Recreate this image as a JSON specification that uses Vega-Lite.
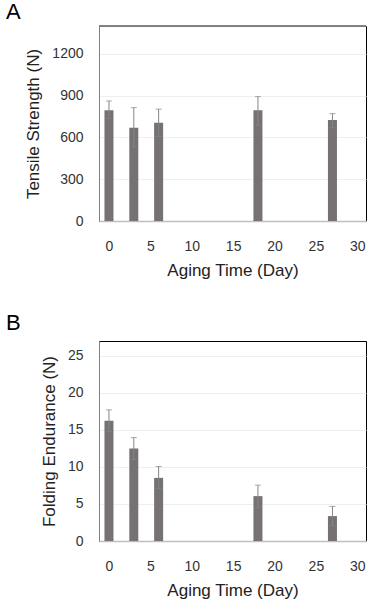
{
  "$schema": "https://vega.github.io/schema/vega-lite/v6.json",
  "padding": {"left": 5, "top": 0, "right": 2, "bottom": 0},
  "spacing": 32,
  "background": "white",
  "config": {
    "font": "Liberation Sans",
    "view": {"stroke": "#000000", "strokeWidth": 1},
    "axisX": {
      "values": [0, 5, 10, 15, 20, 25, 30],
      "ticks": false,
      "tickSize": 0,
      "grid": false,
      "labelPadding": 18,
      "labelFontSize": 14,
      "labelColor": "#333333",
      "titleFontSize": 17,
      "titleFontWeight": "normal",
      "titleColor": "#222222",
      "titlePadding": 9,
      "domainColor": "#bfbfbf",
      "domainWidth": 1.5
    },
    "axisY": {
      "ticks": false,
      "tickSize": 0,
      "grid": true,
      "gridColor": "#efefef",
      "labelPadding": 16,
      "labelFontSize": 14,
      "labelColor": "#333333",
      "titleFontSize": 17,
      "titleFontWeight": "normal",
      "titleColor": "#222222",
      "titlePadding": 9,
      "domainColor": "#808080",
      "format": "d"
    },
    "title": {"fontSize": 22, "fontWeight": "normal", "anchor": "start", "frame": "group", "color": "#000000"}
  },
  "datasets": {
    "a": [
      {"day": 0, "value": 795, "lo": 735, "hi": 862},
      {"day": 3, "value": 670, "lo": 532, "hi": 814},
      {"day": 6, "value": 706, "lo": 604, "hi": 803},
      {"day": 18, "value": 795, "lo": 688, "hi": 893},
      {"day": 27, "value": 726, "lo": 670, "hi": 771}
    ],
    "b": [
      {"day": 0, "value": 16.25, "lo": 14.8, "hi": 17.7},
      {"day": 3, "value": 12.5, "lo": 11.0, "hi": 13.96},
      {"day": 6, "value": 8.52, "lo": 7.09, "hi": 10.05},
      {"day": 18, "value": 6.06, "lo": 4.48, "hi": 7.54},
      {"day": 27, "value": 3.36, "lo": 2.11, "hi": 4.67}
    ]
  },
  "vconcat": [
    {
      "width": 267,
      "height": 195,
      "title": {"text": "A", "dx": -93, "offset": 2},
      "data": {"name": "a"},
      "encoding": {
        "x": {"field": "day", "type": "quantitative", "scale": {"domain": [-0.6, 30.45], "nice": false, "zero": false}, "title": "Aging Time (Day)"}
      },
      "layer": [
        {
          "mark": {"type": "bar", "width": 9, "color": "#777272"},
          "encoding": {
            "y": {"field": "value", "type": "quantitative", "scale": {"domain": [0, 1400], "nice": false}, "axis": {"values": [0, 300, 600, 900, 1200]}, "title": "Tensile Strength (N)"}
          }
        },
        {
          "mark": {"type": "rule", "color": "#858585", "strokeWidth": 1},
          "encoding": {
            "y": {"field": "lo", "type": "quantitative", "axis": {"values": [0, 300, 600, 900, 1200]}, "title": "Tensile Strength (N)"},
            "y2": {"field": "hi"}
          }
        },
        {
          "mark": {"type": "tick", "orient": "horizontal", "size": 6, "thickness": 1, "color": "#858585"},
          "encoding": {
            "y": {"field": "hi", "type": "quantitative", "axis": {"values": [0, 300, 600, 900, 1200]}, "title": "Tensile Strength (N)"}
          }
        },
        {
          "mark": {"type": "tick", "orient": "horizontal", "size": 6, "thickness": 1, "color": "#858585"},
          "encoding": {
            "y": {"field": "lo", "type": "quantitative", "axis": {"values": [0, 300, 600, 900, 1200]}, "title": "Tensile Strength (N)"}
          }
        },
        {
          "mark": {"type": "rule", "color": "#808080", "strokeWidth": 1},
          "encoding": {"x": {"value": 0}, "x2": {"value": 267}, "y": {"datum": 1400, "type": "quantitative", "axis": {"values": [0, 300, 600, 900, 1200]}, "title": "Tensile Strength (N)"}}
        }
      ]
    },
    {
      "width": 267,
      "height": 200,
      "title": {"text": "B", "dx": -93, "offset": 6},
      "data": {"name": "b"},
      "encoding": {
        "x": {"field": "day", "type": "quantitative", "scale": {"domain": [-0.6, 30.45], "nice": false, "zero": false}, "title": "Aging Time (Day)"}
      },
      "layer": [
        {
          "mark": {"type": "bar", "width": 9, "color": "#777272"},
          "encoding": {
            "y": {"field": "value", "type": "quantitative", "scale": {"domain": [0, 27], "nice": false}, "axis": {"values": [0, 5, 10, 15, 20, 25]}, "title": "Folding Endurance (N)"}
          }
        },
        {
          "mark": {"type": "rule", "color": "#858585", "strokeWidth": 1},
          "encoding": {
            "y": {"field": "lo", "type": "quantitative", "axis": {"values": [0, 5, 10, 15, 20, 25]}, "title": "Folding Endurance (N)"},
            "y2": {"field": "hi"}
          }
        },
        {
          "mark": {"type": "tick", "orient": "horizontal", "size": 6, "thickness": 1, "color": "#858585"},
          "encoding": {
            "y": {"field": "hi", "type": "quantitative", "axis": {"values": [0, 5, 10, 15, 20, 25]}, "title": "Folding Endurance (N)"}
          }
        },
        {
          "mark": {"type": "tick", "orient": "horizontal", "size": 6, "thickness": 1, "color": "#858585"},
          "encoding": {
            "y": {"field": "lo", "type": "quantitative", "axis": {"values": [0, 5, 10, 15, 20, 25]}, "title": "Folding Endurance (N)"}
          }
        }
      ]
    }
  ]
}
